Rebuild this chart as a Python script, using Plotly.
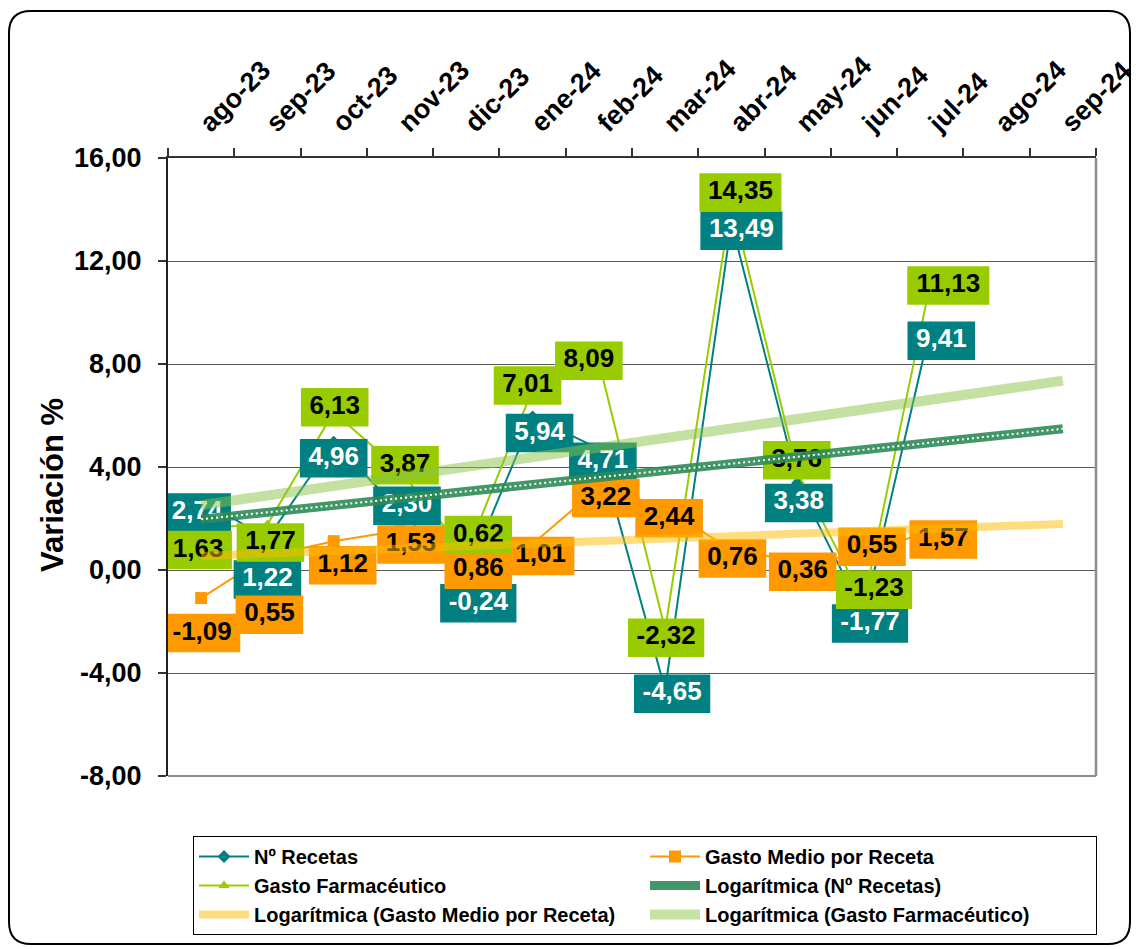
import numpy as np
import pandas as pd
import plotly.graph_objects as go

# ---------------- data ----------------
categories = ["ago-23", "sep-23", "oct-23", "nov-23", "dic-23", "ene-24", "feb-24",
              "mar-24", "abr-24", "may-24", "jun-24", "jul-24", "ago-24", "sep-24"]
n_recetas = [2.74, 1.22, 4.96, 2.30, -0.24, 5.94, 4.71, -4.65, 13.49, 3.38, -1.77, 9.41]
gasto_medio = [-1.09, 0.55, 1.12, 1.53, 0.86, 1.01, 3.22, 2.44, 0.76, 0.36, 0.55, 1.57]
gasto_farm = [1.63, 1.77, 6.13, 3.87, 0.62, 7.01, 8.09, -2.32, 14.35, 3.76, -1.23, 11.13]
month_starts = pd.date_range("2023-08-01", periods=len(categories), freq="MS")
y_ticks = [-8, -4, 0, 4, 8, 12, 16]

# label placement offsets in px from the point (dx right, dy down)
rec_label_dx = [-4, 0, 0, 7, 12, 7, 4, 7, 10, 1, 6, 11]
rec_label_dy = [13, 41, 16, -5, 27, 16, 13, 4, 8, 20, 8, 13]
med_label_dx = [1, 2, 9, 11, 12, 8, 7, 4, 1, 5, 8, 13]
med_label_dy = [35, 59, 24, 14, 22, 12, 11, 11, 8, 11, -9, 10]
farm_label_dx = [-3, 3, 1, 5, 12, -5, -10, 1, 9, -1, 10, 18]
farm_label_dy = [22, 18, -5, -5, -19, -4, -1, 8, -8, -13, -12, 2]

# ---------------- geometry / style ----------------
W, H = 1136, 949
ML, MR, MT, MB = 168, 40, 158, 173
PW, PH = W - ML - MR, H - MT - MB
Y0, Y1 = -8, 16
PX_CAT = PW / len(categories)
PX_UNIT = PH / (Y1 - Y0)
FONT = "Liberation Sans, Arial, sans-serif"
LABEL_SIZE = 26
BOX_H = 38.5

C_REC = "#008080"
C_MED = "#FF9900"
C_FARM = "#99CC00"


def fmt(v):
    return f"{v:.2f}".replace(".", ",")


def text_width(t):
    w = 0.0
    for ch in t:
        if ch.isdigit():
            w += 0.556
        elif ch == ",":
            w += 0.278
        elif ch == "-":
            w += 0.333
    return w * LABEL_SIZE


def label_boxes(values, dxs, dys):
    xs, ys, cx, cy, texts = [], [], [], [], []
    for i, (v, dx, dy) in enumerate(zip(values, dxs, dys)):
        t = fmt(v)
        w = text_width(t) + 17
        xc = i + dx / PX_CAT
        yc = v - dy / PX_UNIT
        hw = w / 2 / PX_CAT
        hh = BOX_H / 2 / PX_UNIT
        xs += [xc - hw, xc + hw, xc + hw, xc - hw, xc - hw, None]
        ys += [yc - hh, yc - hh, yc + hh, yc + hh, yc - hh, None]
        cx.append(xc)
        cy.append(yc)
        texts.append(f"<b>{t}</b>")
    return xs, ys, cx, cy, texts


def log_trend(values):
    serial = (month_starts - pd.Timestamp("1899-12-30")).days.values.astype(float)
    lx = np.log(serial)
    a, b = np.polyfit(lx[: len(values)], np.array(values), 1)
    return a * lx + b


idx_data = list(range(len(n_recetas)))
idx_all = list(range(len(categories)))

fig = go.Figure()

# series lines
fig.add_trace(go.Scatter(x=idx_data, y=n_recetas, mode="lines+markers", name="Nº Recetas",
                         line=dict(color=C_REC, width=2),
                         marker=dict(symbol="diamond", size=10, color=C_REC)))
fig.add_trace(go.Scatter(x=idx_data, y=gasto_medio, mode="lines+markers", name="Gasto Medio por Receta",
                         line=dict(color=C_MED, width=2),
                         marker=dict(symbol="square", size=12, color=C_MED)))
fig.add_trace(go.Scatter(x=idx_data, y=gasto_farm, mode="lines+markers", name="Gasto Farmacéutico",
                         line=dict(color=C_FARM, width=2),
                         marker=dict(symbol="triangle-up", size=10, color=C_FARM)))

# data labels (boxes + text)
for vals, dxs, dys, bg, fc in [
    (n_recetas, rec_label_dx, rec_label_dy, C_REC, "white"),
    (gasto_medio, med_label_dx, med_label_dy, C_MED, "black"),
    (gasto_farm, farm_label_dx, farm_label_dy, C_FARM, "black"),
]:
    xs, ys, cx, cy, texts = label_boxes(vals, dxs, dys)
    fig.add_trace(go.Scatter(x=xs, y=ys, mode="lines", fill="toself", fillcolor=bg,
                             line=dict(width=0, color=bg), showlegend=False, hoverinfo="skip"))
    fig.add_trace(go.Scatter(x=cx, y=cy, mode="text", text=texts, textposition="middle center",
                             textfont=dict(size=LABEL_SIZE, color=fc, family=FONT),
                             cliponaxis=False, showlegend=False, hoverinfo="skip"))

# logarithmic trend lines
tr_rec = log_trend(n_recetas)
tr_med = log_trend(gasto_medio)
tr_farm = log_trend(gasto_farm)
fig.add_trace(go.Scatter(x=idx_all, y=tr_rec, mode="lines", name="Logarítmica (Nº Recetas)",
                         line=dict(color="#2E8B57", width=9), opacity=0.9))
fig.add_trace(go.Scatter(x=idx_all, y=tr_med, mode="lines", name="Logarítmica (Gasto Medio por Receta)",
                         line=dict(color="#FFBB00", width=8), opacity=0.5))
fig.add_trace(go.Scatter(x=idx_all, y=tr_farm, mode="lines", name="Logarítmica (Gasto Farmacéutico)",
                         line=dict(color="#8BC34A", width=10), opacity=0.5))
fig.add_trace(go.Scatter(x=idx_all, y=tr_rec, mode="lines", showlegend=False, hoverinfo="skip",
                         line=dict(color="white", width=2, dash="2px,3px")))


def P(px, py):
    return (px - ML) / PW, (H - MB - py) / PH


def rounded_rect(x0, y0, x1, y1, r):
    pts = [("M", [(x0 + r, y0)]), ("L", [(x1 - r, y0)]), ("Q", [(x1, y0), (x1, y0 + r)]),
           ("L", [(x1, y1 - r)]), ("Q", [(x1, y1), (x1 - r, y1)]), ("L", [(x0 + r, y1)]),
           ("Q", [(x0, y1), (x0, y1 - r)]), ("L", [(x0, y0 + r)]), ("Q", [(x0, y0), (x0 + r, y0)])]
    s = ""
    for cmd, ps in pts:
        s += cmd + " " + " ".join("%.5f,%.5f" % P(px, py) for px, py in ps) + " "
    return s + "Z"


shapes = [
    dict(type="path", xref="paper", yref="paper", path=rounded_rect(9, 11, 1130, 944, 22),
         line=dict(color="black", width=2)),
    dict(type="line", xref="paper", yref="paper", x0=1, x1=1, y0=0, y1=1,
         line=dict(color="#8c8c8c", width=2.5)),
    dict(type="line", xref="paper", yref="paper", x0=0, x1=1, y0=0, y1=0,
         line=dict(color="#8c8c8c", width=2)),
]

# y-axis title as annotation (placed in paper coords from pixel layout)
tx, ty = P(52, 485)

fig.update_layout(
    width=W, height=H,
    margin=dict(l=ML, r=MR, t=MT, b=MB, pad=0, autoexpand=False),
    paper_bgcolor="white", plot_bgcolor="white",
    font=dict(family=FONT, color="black"),
    shapes=shapes,
    annotations=[dict(text="<b>Variación %</b>", xref="paper", yref="paper", x=tx, y=ty,
                      xanchor="center", yanchor="middle", textangle=-90, showarrow=False,
                      font=dict(size=31, color="black", family=FONT))],
    showlegend=True,
    legend=dict(orientation="h", xref="container", yref="container",
                x=193 / W, y=1 - 836 / H,
                xanchor="left", yanchor="top",
                font=dict(size=20, color="black", family=FONT, weight="bold"),
                bgcolor="white", bordercolor="black", borderwidth=1,
                entrywidth=386, itemwidth=50, tracegroupgap=0),
    xaxis=dict(range=[-0.5, len(categories) - 0.5], side="top",
               tickmode="array", tickvals=idx_all, ticktext=categories,
               tickangle=-45, ticks="", showgrid=False, zeroline=False,
               tickfont=dict(size=27, color="black", family=FONT, weight="bold"),
               ticklabeloverflow="allow",
               showline=True, linecolor="#333333", linewidth=1.5,
               minor=dict(tickmode="array", tickvals=[i - 0.5 for i in range(len(categories) + 1)],
                          ticks="outside", ticklen=8, tickcolor="#333333", tickwidth=1.5,
                          showgrid=False),
               ticklabelstandoff=8),
    yaxis=dict(range=[Y0, Y1], tickmode="array", tickvals=y_ticks,
               ticktext=[fmt(v) for v in y_ticks],
               ticks="outside", ticklen=8, tickcolor="#333333", tickwidth=1.5,
               showgrid=True, gridcolor="#5a5a5a", gridwidth=1, zeroline=False,
               showline=True, linecolor="#222222", linewidth=2,
               tickfont=dict(size=27, color="black", family=FONT, weight="bold"),
               ticklabelstandoff=11),
)

fig.write_html("out.html", config={"displayModeBar": False},
               post_script="document.body.style.margin='0px';document.body.style.overflow='hidden';")
